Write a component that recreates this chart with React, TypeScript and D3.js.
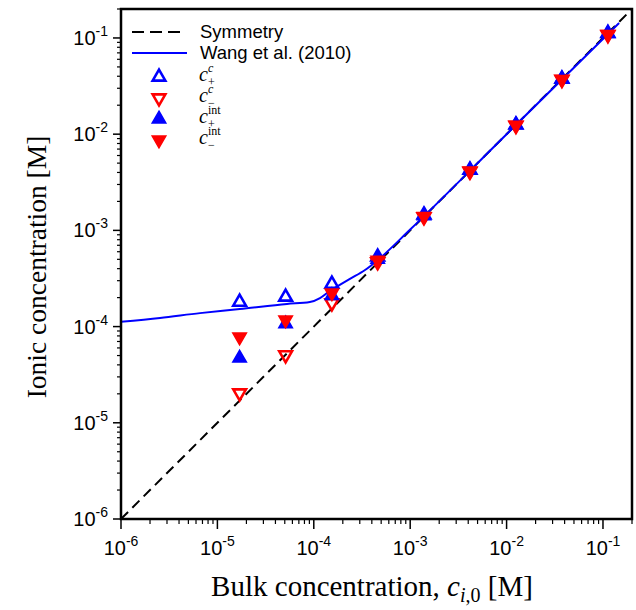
import React from "react";
import * as d3 from "d3";

// ---- data ----
const bulk = [1.7e-5, 5.1e-5, 1.54e-4, 4.6e-4, 1.39e-3, 4.17e-3, 1.25e-2, 3.75e-2, 0.1125];
const cPlusC = [1.8e-4, 2.03e-4, 2.77e-4, 5.3e-4, 1.45e-3, 4.25e-3, 1.25e-2, 3.75e-2, 0.112];
const cMinusC = [2.04e-5, 5.07e-5, 1.76e-4, 4.7e-4, 1.38e-3, 4.1e-3, 1.23e-2, 3.7e-2, 0.108];
const cPlusInt = [4.7e-5, 1.07e-4, 2.1e-4, 5.0e-4, 1.42e-3, 4.2e-3, 1.25e-2, 3.75e-2, 0.111];
const cMinusInt = [7.8e-5, 1.17e-4, 2.24e-4, 4.9e-4, 1.4e-3, 4.15e-3, 1.24e-2, 3.7e-2, 0.109];

const wangX = [1e-6, 2.54e-6, 6.6e-6, 1.71e-5, 5.27e-5, 9.1e-5, 1.16e-4, 1.47e-4, 1.86e-4, 2.37e-4, 3.4e-4, 4.6e-4, 1e-3, 1e-2, 0.147];
const wangY = [1.12e-4, 1.23e-4, 1.38e-4, 1.52e-4, 1.72e-4, 1.8e-4, 1.98e-4, 2.35e-4, 2.71e-4, 3.13e-4, 3.87e-4, 4.9e-4, 1.02e-3, 1.0e-2, 0.143];

const symX = [1e-6, 0.2];

const majorTicks = [1e-6, 1e-5, 1e-4, 1e-3, 1e-2, 1e-1];
const tickExps = ["-6", "-5", "-4", "-3", "-2", "-1"];

const W = 636, H = 610;
const L = 121, R = 632, T = 9, B = 519;

export default function App() {
  const x = d3.scaleLog().domain([1e-6, 0.2]).range([L, R]);
  const y = d3.scaleLog().domain([1e-6, 0.2]).range([B, T]);

  const minor: number[] = [];
  for (let e = -6; e <= -1; e++) {
    for (let m = 2; m <= 9; m++) {
      const v = m * Math.pow(10, e);
      if (v <= 0.2 + 1e-12) minor.push(v);
    }
  }

  const line = d3.line<number>().x((_, i) => x(wangX[i])).y((_, i) => y(wangY[i])).curve(d3.curveMonotoneX);
  const symLine = d3.line<number>().x((d) => x(d)).y((d) => y(d));

  const triOpen = d3.symbol().type(d3.symbolTriangle).size(70)()!;
  const triFilled = d3.symbol().type(d3.symbolTriangle).size(80)()!;

  const marker = (kind: string, cx: number, cy: number, key: string) => {
    const blue = "#0000ff", red = "#ff0000";
    if (kind === "pc")
      return <path key={key} d={triOpen} transform={`translate(${cx},${cy})`} fill="none" stroke={blue} strokeWidth={2.6} />;
    if (kind === "mc")
      return <path key={key} d={triOpen} transform={`translate(${cx},${cy}) rotate(180)`} fill="none" stroke={red} strokeWidth={2.6} />;
    if (kind === "pi")
      return <path key={key} d={triFilled} transform={`translate(${cx},${cy})`} fill={blue} stroke={blue} strokeWidth={1.5} />;
    return <path key={key} d={triFilled} transform={`translate(${cx},${cy}) rotate(180)`} fill={red} stroke={red} strokeWidth={1.5} />;
  };

  const sans = "Arial, 'Liberation Sans', sans-serif";
  const serif = "'Times New Roman', 'Liberation Serif', serif";

  const legendItems = [
    { kind: "pc", sup: "c", sub: "+", y: 77 },
    { kind: "mc", sup: "c", sub: "\u2212", y: 98 },
    { kind: "pi", sup: "int", sub: "+", y: 119 },
    { kind: "mi", sup: "int", sub: "\u2212", y: 140 },
  ];

  return (
    <svg width={W} height={H} style={{ position: "absolute", left: 0, top: 0, background: "#fff" }}>
      <rect x={0} y={0} width={W} height={H} fill="#fff" />
      <defs>
        <clipPath id="plotclip">
          <rect x={L} y={T} width={R - L} height={B - T} />
        </clipPath>
      </defs>

      {/* lines */}
      <g clipPath="url(#plotclip)">
        <path d={symLine(symX)!} fill="none" stroke="#000" strokeWidth={2} strokeDasharray="10,6" />
        <path d={line(wangX)!} fill="none" stroke="#0000ff" strokeWidth={2} />
      </g>

      {/* markers */}
      <g>
        {bulk.map((b, i) => marker("pc", x(b), y(cPlusC[i]), "pc" + i))}
        {bulk.map((b, i) => marker("mc", x(b), y(cMinusC[i]), "mc" + i))}
        {bulk.map((b, i) => marker("pi", x(b), y(cPlusInt[i]), "pi" + i))}
        {bulk.map((b, i) => marker("mi", x(b), y(cMinusInt[i]), "mi" + i))}
      </g>

      {/* frame */}
      <rect x={L} y={T} width={R - L} height={B - T} fill="none" stroke="#000" strokeWidth={2.5} />

      {/* x ticks */}
      {minor.map((v, i) => (
        <line key={"xm" + i} x1={x(v)} x2={x(v)} y1={B} y2={B + 5} stroke="#000" strokeWidth={1.2} />
      ))}
      {majorTicks.map((v, i) => (
        <line key={"xM" + i} x1={x(v)} x2={x(v)} y1={B} y2={B + 10} stroke="#000" strokeWidth={1.5} />
      ))}
      {majorTicks.map((v, i) => (
        <text key={"xl" + i} x={x(v)} y={555} textAnchor="middle" fontFamily={sans} fontSize={20} fill="#000">
          10<tspan dy={-9} fontSize={14}>{tickExps[i]}</tspan>
        </text>
      ))}

      {/* y ticks */}
      {minor.map((v, i) => (
        <line key={"ym" + i} x1={L - 4} x2={L} y1={y(v)} y2={y(v)} stroke="#000" strokeWidth={1.2} />
      ))}
      {majorTicks.map((v, i) => (
        <line key={"yM" + i} x1={L - 8} x2={L} y1={y(v)} y2={y(v)} stroke="#000" strokeWidth={1.5} />
      ))}
      {majorTicks.map((v, i) => (
        <text key={"yl" + i} x={108} y={y(v) + 7} textAnchor="end" fontFamily={sans} fontSize={20} fill="#000">
          10<tspan dy={-9} fontSize={14}>{tickExps[i]}</tspan>
        </text>
      ))}

      {/* axis titles */}
      <text x={372} y={596} textAnchor="middle" fontFamily={serif} fontSize={29} fill="#000">
        Bulk concentration, <tspan fontStyle="italic">c</tspan>
        <tspan fontStyle="italic" fontSize={20} dy={6}>i</tspan>
        <tspan fontSize={20}>,0</tspan>
        <tspan dy={-6}> [M]</tspan>
      </text>
      <text transform={`translate(46,${(T + B) / 2 + 3}) rotate(-90)`} textAnchor="middle" fontFamily={serif} fontSize={27.5} fill="#000">
        Ionic concentration [M]
      </text>

      {/* legend */}
      <line x1={132} x2={182} y1={32} y2={32} stroke="#000" strokeWidth={2} strokeDasharray="12,6" />
      <text x={200} y={38} fontFamily={sans} fontSize={18.5} fill="#000">Symmetry</text>
      <line x1={132} x2={187} y1={53} y2={53} stroke="#0000ff" strokeWidth={2} />
      <text x={200} y={59} fontFamily={sans} fontSize={18.5} fill="#000">Wang et al. (2010)</text>
      {legendItems.map((it, i) => (
        <g key={"lg" + i}>
          {marker(it.kind, 159, it.y, "lm" + i)}
          <text x={199} y={it.y + 4} fontFamily={serif} fontSize={20} fill="#000">
            <tspan fontStyle="italic">c</tspan>
          </text>
          <text x={208} y={it.y - 5} fontFamily={serif} fontSize={12} fontStyle={it.sup === "c" ? "italic" : "normal"} fill="#000">{it.sup}</text>
          <text x={208} y={it.y + 9} fontFamily={serif} fontSize={12} fill="#000">{it.sub}</text>
        </g>
      ))}
    </svg>
  );
}
